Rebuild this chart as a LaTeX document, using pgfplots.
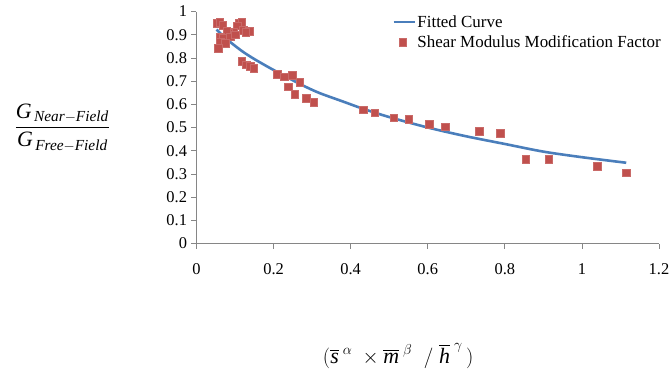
\documentclass[border=0pt]{standalone}
\usepackage{pgfplots}
\pgfplotsset{compat=1.18}
\usepackage{amsmath}
\usepackage{fontspec}
\setmainfont{Liberation Serif}
\definecolor{fitblue}{HTML}{4A7EBB}
\definecolor{ptred}{HTML}{C0504D}
\definecolor{axgray}{HTML}{868686}
\pgfplotsset{
  linelegend/.style={legend image code/.code={\draw[##1] (0bp,0bp) -- (21bp,0bp);}},
  marklegend/.style={legend image code/.code={\draw[##1] plot coordinates {(9bp,0bp)};}},
}
\begin{document}
\begin{tikzpicture}
\begin{axis}[
  at={(0,0)}, anchor=south west,
  scale only axis, width=462.5bp, height=232bp,
  xmin=0, xmax=1.2, ymin=0, ymax=1,
  xtick={0,0.2,0.4,0.6,0.8,1,1.2},
  ytick={0,0.1,0.2,0.3,0.4,0.5,0.6,0.7,0.8,0.9,1},
  axis x line*=bottom, axis y line*=left,
  axis line style={axgray, line width=0.8bp, -},
  tick style={axgray, line width=0.8bp},
  tick align=outside, major tick length=5bp,
  /pgf/number format/assume math mode=true,
  ticklabel style={font=\fontsize{16.5}{18}\selectfont, text=black},
  xticklabel style={yshift=-12bp},
  yticklabel style={xshift=-1bp},
  ylabel={$\dfrac{\textit{G}_{\,\textit{Near}-\textit{Field}}}{\textit{G}_{\,\textit{Free}-\textit{Field}}}$},
  ylabel style={rotate=-90, at={(axis description cs:-0.29,0.5)}, anchor=center, font=\fontsize{22}{26}\selectfont},
  xlabel={$(\overline{\textit{s}}^{\;\alpha}\;\times\overline{\textit{m}}^{\;\beta}\;\;/\;\overline{\textit{h}}^{\;\gamma}\,)$},
  xlabel style={at={(axis description cs:0.436,-0.485)}, anchor=center, font=\fontsize{22}{26}\selectfont},
  legend style={at={(axis description cs:0.423,0.99)}, anchor=north west, draw=none, fill=none,
    font=\fontsize{17}{19}\selectfont, inner sep=0pt, row sep=4bp, nodes={inner sep=1.5bp}},
  legend cell align=left,
]
\addplot[fitblue, line width=2.6bp, smooth, linelegend] coordinates {
(0.052,0.922) (0.07,0.893) (0.09,0.865) (0.12,0.827) (0.15,0.795) (0.19,0.757)
(0.24,0.712) (0.28,0.678) (0.32,0.648) (0.38,0.612) (0.43,0.582) (0.50,0.545)
(0.60,0.500) (0.70,0.462) (0.80,0.429) (0.90,0.396) (1.00,0.372) (1.115,0.348)
};
\addlegendentry{Fitted Curve}
\addplot[only marks, mark=square*, mark size=3.8bp, mark options={fill=ptred, draw=ptred!85!white}, marklegend] coordinates {
(0.054,0.950) (0.060,0.953) (0.068,0.942) (0.111,0.952) (0.117,0.953) (0.106,0.939)
(0.121,0.920) (0.137,0.916) (0.128,0.910) (0.095,0.913) (0.083,0.906) (0.078,0.915)
(0.061,0.891) (0.069,0.884) (0.087,0.891) (0.100,0.900) (0.061,0.867) (0.074,0.863)
(0.057,0.841)
(0.117,0.786) (0.129,0.770) (0.140,0.763) (0.148,0.755)
(0.209,0.731) (0.227,0.719) (0.249,0.726) (0.268,0.695) (0.238,0.676) (0.255,0.643)
(0.284,0.626) (0.304,0.608) (0.432,0.576) (0.462,0.564) (0.512,0.542) (0.551,0.537)
(0.603,0.514) (0.646,0.504) (0.734,0.485) (0.788,0.476) (0.854,0.363) (0.914,0.363)
(1.039,0.334) (1.115,0.305)
};
\addlegendentry{Shear Modulus Modification Factor}
\end{axis}
\pgfresetboundingbox
\path[use as bounding box] (-196.5bp,-131.5bp) rectangle (473.5bp,243.5bp);
\end{tikzpicture}
\end{document}
